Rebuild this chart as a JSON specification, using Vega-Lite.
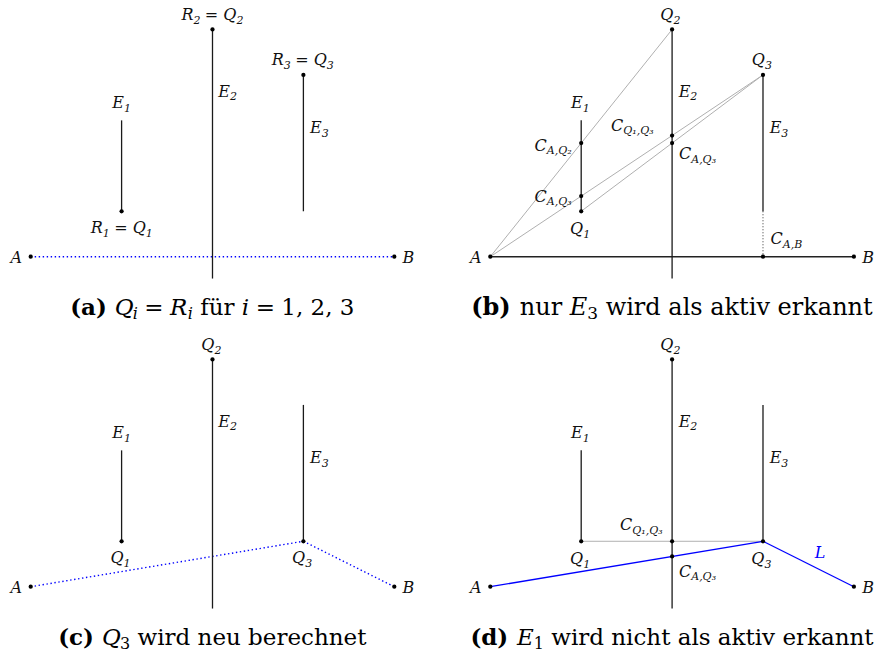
{
  "$schema": "https://vega.github.io/schema/vega-lite/v6.json",
  "padding": 0,
  "background": "white",
  "config": {"view": {"stroke": null}, "text": {"font": "DejaVu Serif"}},
  "data": {"values": [
    {"panel":"a","role":"obstacle","x":1,"y":0.5,"x2":1,"y2":1.5},
    {"panel":"a","role":"obstacle","x":2,"y":-0.24,"x2":2,"y2":2.5},
    {"panel":"a","role":"obstacle","x":3,"y":0.5,"x2":3,"y2":2},
    {"panel":"b","role":"obstacle","x":1,"y":0.5,"x2":1,"y2":1.5},
    {"panel":"b","role":"obstacle","x":2,"y":-0.24,"x2":2,"y2":2.5},
    {"panel":"b","role":"obstacle","x":3,"y":0.5,"x2":3,"y2":2},
    {"panel":"c","role":"obstacle","x":1,"y":0.5,"x2":1,"y2":1.5},
    {"panel":"c","role":"obstacle","x":2,"y":-0.24,"x2":2,"y2":2.5},
    {"panel":"c","role":"obstacle","x":3,"y":0.5,"x2":3,"y2":2},
    {"panel":"d","role":"obstacle","x":1,"y":0.5,"x2":1,"y2":1.5},
    {"panel":"d","role":"obstacle","x":2,"y":-0.24,"x2":2,"y2":2.5},
    {"panel":"d","role":"obstacle","x":3,"y":0.5,"x2":3,"y2":2},

    {"panel":"a","role":"candidate","x":0,"y":0,"x2":4,"y2":0},
    {"panel":"b","role":"baseline","x":0,"y":0,"x2":4,"y2":0},
    {"panel":"b","role":"construction","x":0,"y":0,"x2":2,"y2":2.5},
    {"panel":"b","role":"construction","x":0,"y":0,"x2":3,"y2":2},
    {"panel":"b","role":"construction","x":1,"y":0.5,"x2":3,"y2":2},
    {"panel":"b","role":"projection","x":3,"y":0.5,"x2":3,"y2":0},
    {"panel":"c","role":"candidate","x":0,"y":0,"x2":3,"y2":0.5},
    {"panel":"c","role":"candidate","x":3,"y":0.5,"x2":4,"y2":0},
    {"panel":"d","role":"construction","x":1,"y":0.5,"x2":3,"y2":0.5},
    {"panel":"d","role":"path","x":0,"y":0,"x2":3,"y2":0.5},
    {"panel":"d","role":"path","x":3,"y":0.5,"x2":4,"y2":0},

    {"panel":"a","role":"point","x":0,"y":0},
    {"panel":"a","role":"point","x":4,"y":0},
    {"panel":"a","role":"point","x":1,"y":0.5},
    {"panel":"a","role":"point","x":2,"y":2.5},
    {"panel":"a","role":"point","x":3,"y":2},
    {"panel":"b","role":"point","x":0,"y":0},
    {"panel":"b","role":"point","x":4,"y":0},
    {"panel":"b","role":"point","x":1,"y":0.5},
    {"panel":"b","role":"point","x":2,"y":2.5},
    {"panel":"b","role":"point","x":3,"y":2},
    {"panel":"b","role":"point","x":1,"y":1.25},
    {"panel":"b","role":"point","x":1,"y":0.6667},
    {"panel":"b","role":"point","x":2,"y":1.3333},
    {"panel":"b","role":"point","x":2,"y":1.25},
    {"panel":"b","role":"point","x":3,"y":0},
    {"panel":"c","role":"point","x":0,"y":0},
    {"panel":"c","role":"point","x":4,"y":0},
    {"panel":"c","role":"point","x":1,"y":0.5},
    {"panel":"c","role":"point","x":2,"y":2.5},
    {"panel":"c","role":"point","x":3,"y":0.5},
    {"panel":"d","role":"point","x":0,"y":0},
    {"panel":"d","role":"point","x":4,"y":0},
    {"panel":"d","role":"point","x":1,"y":0.5},
    {"panel":"d","role":"point","x":2,"y":2.5},
    {"panel":"d","role":"point","x":3,"y":0.5},
    {"panel":"d","role":"point","x":2,"y":0.5},
    {"panel":"d","role":"point","x":2,"y":0.3333},

    {"panel":"a","role":"label","main":"R","sub":"2","x":1.791,"y":2.604},
    {"panel":"a","role":"label","main":"= Q","sub":"2","x":2.263,"y":2.604},
    {"panel":"a","role":"label","main":"R","sub":"3","x":2.785,"y":2.109},
    {"panel":"a","role":"label","main":"= Q","sub":"3","x":3.258,"y":2.109},
    {"panel":"a","role":"label","main":"E","sub":"1","x":1.026,"y":1.633},
    {"panel":"a","role":"label","main":"E","sub":"2","x":2.193,"y":1.76},
    {"panel":"a","role":"label","main":"E","sub":"3","x":3.201,"y":1.357},
    {"panel":"a","role":"label","main":"R","sub":"1","x":0.794,"y":0.257},
    {"panel":"a","role":"label","main":"= Q","sub":"1","x":1.266,"y":0.257},
    {"panel":"a","role":"label","main":"A","sub":"","x":-0.096,"y":-0.064},
    {"panel":"a","role":"label","main":"B","sub":"","x":4.22,"y":-0.064},

    {"panel":"b","role":"label","main":"Q","sub":"2","x":2.015,"y":2.604},
    {"panel":"b","role":"label","main":"Q","sub":"3","x":3.022,"y":2.109},
    {"panel":"b","role":"label","main":"E","sub":"1","x":1.016,"y":1.633},
    {"panel":"b","role":"label","main":"E","sub":"2","x":2.201,"y":1.76},
    {"panel":"b","role":"label","main":"E","sub":"3","x":3.202,"y":1.357},
    {"panel":"b","role":"label","main":"C","sub":"A,Q₂","x":0.622,"y":1.166},
    {"panel":"b","role":"label","main":"C","sub":"A,Q₃","x":0.622,"y":0.605},
    {"panel":"b","role":"label","main":"Q","sub":"1","x":1.022,"y":0.25},
    {"panel":"b","role":"label","main":"C","sub":"Q₁,Q₃","x":1.463,"y":1.386},
    {"panel":"b","role":"label","main":"C","sub":"A,Q₃","x":2.21,"y":1.071},
    {"panel":"b","role":"label","main":"C","sub":"A,B","x":3.218,"y":0.136},
    {"panel":"b","role":"label","main":"A","sub":"","x":-0.096,"y":-0.064},
    {"panel":"b","role":"label","main":"B","sub":"","x":4.22,"y":-0.064},

    {"panel":"c","role":"label","main":"Q","sub":"2","x":2.022,"y":2.604},
    {"panel":"c","role":"label","main":"E","sub":"1","x":1.026,"y":1.633},
    {"panel":"c","role":"label","main":"E","sub":"2","x":2.193,"y":1.76},
    {"panel":"c","role":"label","main":"E","sub":"3","x":3.201,"y":1.357},
    {"panel":"c","role":"label","main":"Q","sub":"1","x":1.021,"y":0.257},
    {"panel":"c","role":"label","main":"Q","sub":"3","x":3.02,"y":0.257},
    {"panel":"c","role":"label","main":"A","sub":"","x":-0.096,"y":-0.064},
    {"panel":"c","role":"label","main":"B","sub":"","x":4.22,"y":-0.064},

    {"panel":"d","role":"label","main":"Q","sub":"2","x":2.015,"y":2.604},
    {"panel":"d","role":"label","main":"E","sub":"1","x":1.016,"y":1.633},
    {"panel":"d","role":"label","main":"E","sub":"2","x":2.201,"y":1.76},
    {"panel":"d","role":"label","main":"E","sub":"3","x":3.202,"y":1.357},
    {"panel":"d","role":"label","main":"C","sub":"Q₁,Q₃","x":1.562,"y":0.624},
    {"panel":"d","role":"label","main":"Q","sub":"1","x":1.022,"y":0.25},
    {"panel":"d","role":"label","main":"Q","sub":"3","x":3.016,"y":0.25},
    {"panel":"d","role":"label","main":"C","sub":"A,Q₃","x":2.21,"y":0.11},
    {"panel":"d","role":"label","main":"A","sub":"","x":-0.096,"y":-0.064},
    {"panel":"d","role":"label","main":"B","sub":"","x":4.22,"y":-0.064},
    {"panel":"d","role":"pathlabel","main":"L","x":3.685,"y":0.319},

    {"panel":"a","role":"caption-tag","text":"(a)","x":0.435,"y":-0.64},
    {"panel":"a","role":"caption-math","text":"Q","x":0.926,"y":-0.64},
    {"panel":"a","role":"caption-mathsub","text":"i","x":1.124,"y":-0.64},
    {"panel":"a","role":"caption-text","text":"=","x":1.25,"y":-0.64},
    {"panel":"a","role":"caption-math","text":"R","x":1.533,"y":-0.64},
    {"panel":"a","role":"caption-mathsub","text":"i","x":1.728,"y":-0.64},
    {"panel":"a","role":"caption-text","text":"für","x":1.864,"y":-0.64},
    {"panel":"a","role":"caption-math","text":"i","x":2.323,"y":-0.64},
    {"panel":"a","role":"caption-text","text":"=","x":2.475,"y":-0.64},
    {"panel":"a","role":"caption-text","text":"1, 2, 3","x":2.757,"y":-0.64},

    {"panel":"b","role":"caption-tag","text":"(b)","x":-0.21,"y":-0.64},
    {"panel":"b","role":"caption-text","text":"nur","x":0.324,"y":-0.64},
    {"panel":"b","role":"caption-math","text":"E","x":0.874,"y":-0.64},
    {"panel":"b","role":"caption-sub","text":"3","x":1.066,"y":-0.64},
    {"panel":"b","role":"caption-text","text":"wird als aktiv erkannt","x":1.269,"y":-0.64},

    {"panel":"c","role":"caption-tag","text":"(c)","x":0.302,"y":-0.64},
    {"panel":"c","role":"caption-math","text":"Q","x":0.785,"y":-0.64},
    {"panel":"c","role":"caption-sub","text":"3","x":0.983,"y":-0.64},
    {"panel":"c","role":"caption-text","text":"wird neu berechnet","x":1.175,"y":-0.64},

    {"panel":"d","role":"caption-tag","text":"(d)","x":-0.219,"y":-0.64},
    {"panel":"d","role":"caption-math","text":"E","x":0.293,"y":-0.64},
    {"panel":"d","role":"caption-sub","text":"1","x":0.477,"y":-0.64},
    {"panel":"d","role":"caption-text","text":"wird nicht als aktiv erkannt","x":0.67,"y":-0.64}
  ]},
  "columns": 2,
  "spacing": {"row": 1, "column": 42.6},
  "concat": [
    {
      "width": 417, "height": 329,
      "transform": [{"filter": "datum.panel === 'a'"}],
      "encoding": {
        "x": {"field": "x", "type": "quantitative", "axis": null, "scale": {"domain": [-0.3377, 4.2498], "nice": false, "zero": false}},
        "y": {"field": "y", "type": "quantitative", "axis": null, "scale": {"domain": [-0.795, 2.824], "nice": false, "zero": false}}
      },
      "layer": [
        {"transform": [{"filter": "datum.role === 'candidate'"}],
         "mark": {"type": "rule", "color": "#0000ff", "strokeWidth": 1.4, "strokeDash": [1.4, 2.6]},
         "encoding": {"x2": {"field": "x2"}, "y2": {"field": "y2"}}},
        {"transform": [{"filter": "datum.role === 'obstacle'"}],
         "mark": {"type": "rule", "color": "#1a1a1a", "strokeWidth": 1.3},
         "encoding": {"x2": {"field": "x2"}, "y2": {"field": "y2"}}},
        {"transform": [{"filter": "datum.role === 'point'"}],
         "mark": {"type": "circle", "color": "#000000", "opacity": 1, "size": 18}},
        {"transform": [{"filter": "datum.role === 'label'"}],
         "mark": {"type": "text", "align": "right", "baseline": "alphabetic", "fontSize": 16, "fontStyle": "italic", "color": "#111111"},
         "encoding": {"text": {"field": "main"}}},
        {"transform": [{"filter": "datum.role === 'label'"}],
         "mark": {"type": "text", "align": "left", "baseline": "alphabetic", "fontSize": 11, "fontStyle": "italic", "dy": 3.5, "color": "#111111"},
         "encoding": {"text": {"field": "sub"}}},
        {"transform": [{"filter": "datum.role === 'caption-tag'"}],
         "mark": {"type": "text", "align": "left", "baseline": "alphabetic", "fontSize": 23, "fontWeight": "bold", "color": "#000000"},
         "encoding": {"text": {"field": "text"}}},
        {"transform": [{"filter": "datum.role === 'caption-text'"}],
         "mark": {"type": "text", "align": "left", "baseline": "alphabetic", "fontSize": 23, "color": "#000000"},
         "encoding": {"text": {"field": "text"}}},
        {"transform": [{"filter": "datum.role === 'caption-math'"}],
         "mark": {"type": "text", "align": "left", "baseline": "alphabetic", "fontSize": 23, "fontStyle": "italic", "color": "#000000"},
         "encoding": {"text": {"field": "text"}}},
        {"transform": [{"filter": "datum.role === 'caption-mathsub'"}],
         "mark": {"type": "text", "align": "left", "baseline": "alphabetic", "fontSize": 16, "fontStyle": "italic", "dy": 4, "color": "#000000"},
         "encoding": {"text": {"field": "text"}}}
      ]
    },
    {
      "width": 417, "height": 329,
      "transform": [{"filter": "datum.panel === 'b'"}],
      "encoding": {
        "x": {"field": "x", "type": "quantitative", "axis": null, "scale": {"domain": [-0.3377, 4.2498], "nice": false, "zero": false}},
        "y": {"field": "y", "type": "quantitative", "axis": null, "scale": {"domain": [-0.795, 2.824], "nice": false, "zero": false}}
      },
      "layer": [
        {"transform": [{"filter": "datum.role === 'construction'"}],
         "mark": {"type": "rule", "color": "#b0b0b0", "strokeWidth": 1},
         "encoding": {"x2": {"field": "x2"}, "y2": {"field": "y2"}}},
        {"transform": [{"filter": "datum.role === 'baseline'"}],
         "mark": {"type": "rule", "color": "#222222", "strokeWidth": 1.3},
         "encoding": {"x2": {"field": "x2"}, "y2": {"field": "y2"}}},
        {"transform": [{"filter": "datum.role === 'projection'"}],
         "mark": {"type": "rule", "color": "#333333", "strokeWidth": 1, "strokeDash": [1, 2]},
         "encoding": {"x2": {"field": "x2"}, "y2": {"field": "y2"}}},
        {"transform": [{"filter": "datum.role === 'obstacle'"}],
         "mark": {"type": "rule", "color": "#1a1a1a", "strokeWidth": 1.3},
         "encoding": {"x2": {"field": "x2"}, "y2": {"field": "y2"}}},
        {"transform": [{"filter": "datum.role === 'point'"}],
         "mark": {"type": "circle", "color": "#000000", "opacity": 1, "size": 18}},
        {"transform": [{"filter": "datum.role === 'label'"}],
         "mark": {"type": "text", "align": "right", "baseline": "alphabetic", "fontSize": 16, "fontStyle": "italic", "color": "#111111"},
         "encoding": {"text": {"field": "main"}}},
        {"transform": [{"filter": "datum.role === 'label'"}],
         "mark": {"type": "text", "align": "left", "baseline": "alphabetic", "fontSize": 11, "fontStyle": "italic", "dy": 3.5, "color": "#111111"},
         "encoding": {"text": {"field": "sub"}}},
        {"transform": [{"filter": "datum.role === 'caption-tag'"}],
         "mark": {"type": "text", "align": "left", "baseline": "alphabetic", "fontSize": 24, "fontWeight": "bold", "color": "#000000"},
         "encoding": {"text": {"field": "text"}}},
        {"transform": [{"filter": "datum.role === 'caption-text'"}],
         "mark": {"type": "text", "align": "left", "baseline": "alphabetic", "fontSize": 24, "color": "#000000"},
         "encoding": {"text": {"field": "text"}}},
        {"transform": [{"filter": "datum.role === 'caption-math'"}],
         "mark": {"type": "text", "align": "left", "baseline": "alphabetic", "fontSize": 24, "fontStyle": "italic", "color": "#000000"},
         "encoding": {"text": {"field": "text"}}},
        {"transform": [{"filter": "datum.role === 'caption-sub'"}],
         "mark": {"type": "text", "align": "left", "baseline": "alphabetic", "fontSize": 17, "dy": 4, "color": "#000000"},
         "encoding": {"text": {"field": "text"}}}
      ]
    },
    {
      "width": 417, "height": 329,
      "transform": [{"filter": "datum.panel === 'c'"}],
      "encoding": {
        "x": {"field": "x", "type": "quantitative", "axis": null, "scale": {"domain": [-0.3377, 4.2498], "nice": false, "zero": false}},
        "y": {"field": "y", "type": "quantitative", "axis": null, "scale": {"domain": [-0.795, 2.824], "nice": false, "zero": false}}
      },
      "layer": [
        {"transform": [{"filter": "datum.role === 'candidate'"}],
         "mark": {"type": "rule", "color": "#0000ff", "strokeWidth": 1.4, "strokeDash": [1.4, 2.6]},
         "encoding": {"x2": {"field": "x2"}, "y2": {"field": "y2"}}},
        {"transform": [{"filter": "datum.role === 'obstacle'"}],
         "mark": {"type": "rule", "color": "#1a1a1a", "strokeWidth": 1.3},
         "encoding": {"x2": {"field": "x2"}, "y2": {"field": "y2"}}},
        {"transform": [{"filter": "datum.role === 'point'"}],
         "mark": {"type": "circle", "color": "#000000", "opacity": 1, "size": 18}},
        {"transform": [{"filter": "datum.role === 'label'"}],
         "mark": {"type": "text", "align": "right", "baseline": "alphabetic", "fontSize": 16, "fontStyle": "italic", "color": "#111111"},
         "encoding": {"text": {"field": "main"}}},
        {"transform": [{"filter": "datum.role === 'label'"}],
         "mark": {"type": "text", "align": "left", "baseline": "alphabetic", "fontSize": 11, "fontStyle": "italic", "dy": 3.5, "color": "#111111"},
         "encoding": {"text": {"field": "sub"}}},
        {"transform": [{"filter": "datum.role === 'caption-tag'"}],
         "mark": {"type": "text", "align": "left", "baseline": "alphabetic", "fontSize": 23, "fontWeight": "bold", "color": "#000000"},
         "encoding": {"text": {"field": "text"}}},
        {"transform": [{"filter": "datum.role === 'caption-text'"}],
         "mark": {"type": "text", "align": "left", "baseline": "alphabetic", "fontSize": 23, "color": "#000000"},
         "encoding": {"text": {"field": "text"}}},
        {"transform": [{"filter": "datum.role === 'caption-math'"}],
         "mark": {"type": "text", "align": "left", "baseline": "alphabetic", "fontSize": 23, "fontStyle": "italic", "color": "#000000"},
         "encoding": {"text": {"field": "text"}}},
        {"transform": [{"filter": "datum.role === 'caption-sub'"}],
         "mark": {"type": "text", "align": "left", "baseline": "alphabetic", "fontSize": 16, "dy": 4, "color": "#000000"},
         "encoding": {"text": {"field": "text"}}}
      ]
    },
    {
      "width": 417, "height": 329,
      "transform": [{"filter": "datum.panel === 'd'"}],
      "encoding": {
        "x": {"field": "x", "type": "quantitative", "axis": null, "scale": {"domain": [-0.3377, 4.2498], "nice": false, "zero": false}},
        "y": {"field": "y", "type": "quantitative", "axis": null, "scale": {"domain": [-0.795, 2.824], "nice": false, "zero": false}}
      },
      "layer": [
        {"transform": [{"filter": "datum.role === 'construction'"}],
         "mark": {"type": "rule", "color": "#b0b0b0", "strokeWidth": 1},
         "encoding": {"x2": {"field": "x2"}, "y2": {"field": "y2"}}},
        {"transform": [{"filter": "datum.role === 'path'"}],
         "mark": {"type": "rule", "color": "#0000ff", "strokeWidth": 1.3},
         "encoding": {"x2": {"field": "x2"}, "y2": {"field": "y2"}}},
        {"transform": [{"filter": "datum.role === 'obstacle'"}],
         "mark": {"type": "rule", "color": "#1a1a1a", "strokeWidth": 1.3},
         "encoding": {"x2": {"field": "x2"}, "y2": {"field": "y2"}}},
        {"transform": [{"filter": "datum.role === 'point'"}],
         "mark": {"type": "circle", "color": "#000000", "opacity": 1, "size": 18}},
        {"transform": [{"filter": "datum.role === 'label'"}],
         "mark": {"type": "text", "align": "right", "baseline": "alphabetic", "fontSize": 16, "fontStyle": "italic", "color": "#111111"},
         "encoding": {"text": {"field": "main"}}},
        {"transform": [{"filter": "datum.role === 'label'"}],
         "mark": {"type": "text", "align": "left", "baseline": "alphabetic", "fontSize": 11, "fontStyle": "italic", "dy": 3.5, "color": "#111111"},
         "encoding": {"text": {"field": "sub"}}},
        {"transform": [{"filter": "datum.role === 'pathlabel'"}],
         "mark": {"type": "text", "align": "right", "baseline": "alphabetic", "fontSize": 16, "fontStyle": "italic", "color": "#0000ff"},
         "encoding": {"text": {"field": "main"}}},
        {"transform": [{"filter": "datum.role === 'caption-tag'"}],
         "mark": {"type": "text", "align": "left", "baseline": "alphabetic", "fontSize": 23, "fontWeight": "bold", "color": "#000000"},
         "encoding": {"text": {"field": "text"}}},
        {"transform": [{"filter": "datum.role === 'caption-text'"}],
         "mark": {"type": "text", "align": "left", "baseline": "alphabetic", "fontSize": 23, "color": "#000000"},
         "encoding": {"text": {"field": "text"}}},
        {"transform": [{"filter": "datum.role === 'caption-math'"}],
         "mark": {"type": "text", "align": "left", "baseline": "alphabetic", "fontSize": 23, "fontStyle": "italic", "color": "#000000"},
         "encoding": {"text": {"field": "text"}}},
        {"transform": [{"filter": "datum.role === 'caption-sub'"}],
         "mark": {"type": "text", "align": "left", "baseline": "alphabetic", "fontSize": 16, "dy": 4, "color": "#000000"},
         "encoding": {"text": {"field": "text"}}}
      ]
    }
  ]
}
